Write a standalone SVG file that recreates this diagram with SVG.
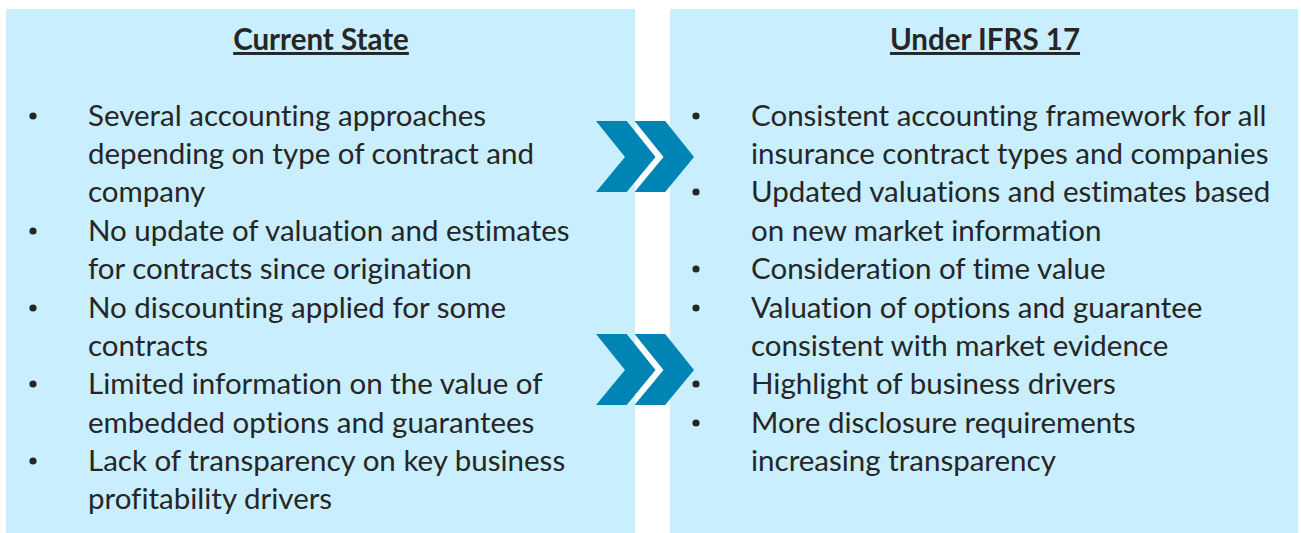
<svg xmlns="http://www.w3.org/2000/svg" width="1301" height="533" viewBox="0 0 1301 533">
  <style>
    .panel { fill: #c9eefd; }
    .title { font-family: Lato, "Liberation Sans", sans-serif; font-size: 29.5px; font-weight: bold; fill: #262626; text-anchor: middle; text-decoration: underline; }
    .item { font-family: Lato, "Liberation Sans", sans-serif; font-size: 29.5px; fill: #262626; font-variant-ligatures: none; }
    .bullet { fill: #262626; }
    .chevron { fill: #0084b4; }
  </style>
  <defs>
    <path id="chev" d="M0,0 H30.7 L59.5,36 L30.7,71 H0 L29,36 Z"/>
    <circle id="dot" r="3.6" />
  </defs>
  <rect width="1301" height="533" fill="#ffffff"/>

  <!-- Current state panel -->
  <g id="current-state">
    <rect class="panel" x="6" y="9" width="629" height="524"/>
    <text class="title" x="321" y="50">Current State</text>
    <g class="bullet">
      <use href="#dot" x="33" y="116"/>
      <use href="#dot" x="33" y="231"/>
      <use href="#dot" x="33" y="308"/>
      <use href="#dot" x="33" y="384"/>
      <use href="#dot" x="33" y="461"/>
    </g>
    <g class="item">
      <text x="88" y="126">Several accounting approaches</text>
      <text x="88" y="164">depending on type of contract and</text>
      <text x="88" y="202">company</text>
      <text x="88" y="241">No update of valuation and estimates</text>
      <text x="88" y="279">for contracts since origination</text>
      <text x="88" y="318">No discounting applied for some</text>
      <text x="88" y="356">contracts</text>
      <text x="88" y="394">Limited information on the value of</text>
      <text x="88" y="433">embedded options and guarantees</text>
      <text x="88" y="471">Lack of transparency on key business</text>
      <text x="88" y="509">profitability drivers</text>
    </g>
  </g>

  <!-- Under IFRS 17 panel -->
  <g id="under-ifrs17">
    <rect class="panel" x="670" y="9" width="628" height="524"/>
    <text class="title" x="985" y="50">Under IFRS 17</text>
    <g class="bullet">
      <use href="#dot" x="696" y="116"/>
      <use href="#dot" x="696" y="192"/>
      <use href="#dot" x="696" y="269"/>
      <use href="#dot" x="696" y="308"/>
      <use href="#dot" x="696" y="384"/>
      <use href="#dot" x="696" y="423"/>
    </g>
    <g class="item">
      <text x="751" y="126">Consistent accounting framework for all</text>
      <text x="751" y="164">insurance contract types and companies</text>
      <text x="751" y="202">Updated valuations and estimates based</text>
      <text x="751" y="241">on new market information</text>
      <text x="751" y="279">Consideration of time value</text>
      <text x="751" y="318">Valuation of options and guarantee</text>
      <text x="751" y="356">consistent with market evidence</text>
      <text x="751" y="394">Highlight of business drivers</text>
      <text x="751" y="433">More disclosure requirements</text>
      <text x="751" y="471">increasing transparency</text>
    </g>
  </g>

  <!-- Transition arrows between the panels -->
  <g id="connectors">
    <g class="chevron">
      <use href="#chev" x="596" y="121"/>
      <use href="#chev" x="634.5" y="121"/>
      <use href="#chev" x="596" y="334"/>
      <use href="#chev" x="634.5" y="334"/>
    </g>
  </g>
</svg>
